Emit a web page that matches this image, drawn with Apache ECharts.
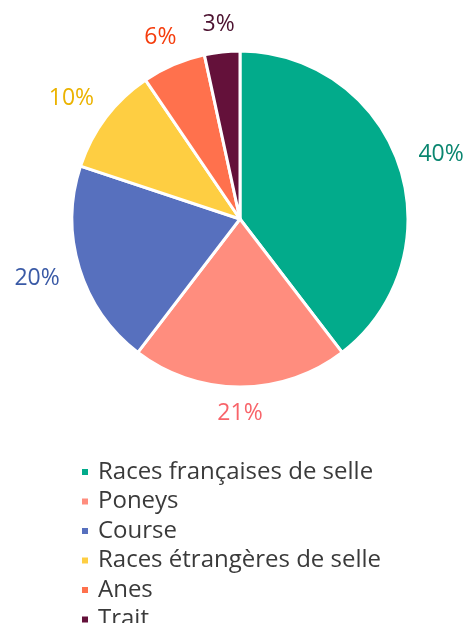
<!DOCTYPE html>
<html>
<head>
<meta charset="utf-8">
<script src="https://cdn.jsdelivr.net/npm/echarts@6/dist/echarts.min.js"></script>
<style>
  html, body { margin: 0; padding: 0; background: #fff; }
  #chart { width: 469px; height: 623px; }
</style>
</head>
<body>
<div id="chart"></div>
<script>
// parts of the herd (%)
const categories = ['Races françaises de selle', 'Poneys', 'Course', 'Races étrangères de selle', 'Anes', 'Trait']
const values = [39.6, 20.8, 19.7, 10.4, 6.1, 3.4]
const sliceColors = ['#02ab8b', '#ff8d7e', '#5770be', '#fece42', '#ff714d', '#64113a']
const labelColors = ['#0a8670', '#f8646a', '#3a5aa6', '#ebb300', '#f53c0c', '#4c1230']

const pieCenter = [240, 219]

const chart = echarts.init(document.getElementById('chart'))

const option = {
  animation: false,
  legend: {
    orient: 'vertical',
    left: 80,
    top: 460,
    height: 300,
    padding: 0,
    itemWidth: 8,
    itemHeight: 8,
    itemGap: 5.5,
    icon: 'rect',
    textStyle: {
      fontFamily: 'Open Sans',
      fontSize: 24,
      lineHeight: 24,
      color: '#3a3a3a',
      padding: [0, 0, 0, 4]
    },
    data: categories
  },
  series: [
    {
      type: 'pie',
      center: pieCenter,
      radius: 168,
      startAngle: 90,
      clockwise: true,
      itemStyle: {
        borderColor: '#fff',
        borderWidth: 3
      },
      label: {
        show: true,
        position: 'outside',
        fontFamily: 'Open Sans',
        fontSize: 23,
        formatter: (p) => Math.round(p.value) + '%'
      },
      labelLine: {
        show: false,
        length: 10,
        length2: 0
      },
      // put each label centred just outside its slice
      labelLayout: (params) => {
        const p = params.labelLinePoints[0]
        const dx = p[0] - pieCenter[0]
        const dy = p[1] - pieCenter[1]
        const len = Math.hypot(dx, dy) || 1
        const ux = dx / len
        const uy = dy / len
        const gap = 15 + 7 * Math.abs(ux)
        const w = params.labelRect.width
        const h = params.labelRect.height
        return {
          x: p[0] + ux * (gap + w / 2),
          y: p[1] + uy * (gap + h / 2),
          align: 'center',
          verticalAlign: 'middle'
        }
      },
      data: categories.map((name, i) => ({
        name: name,
        value: values[i],
        itemStyle: { color: sliceColors[i] },
        label: { color: labelColors[i] }
      }))
    }
  ]
}

chart.setOption(option)
</script>
</body>
</html>
